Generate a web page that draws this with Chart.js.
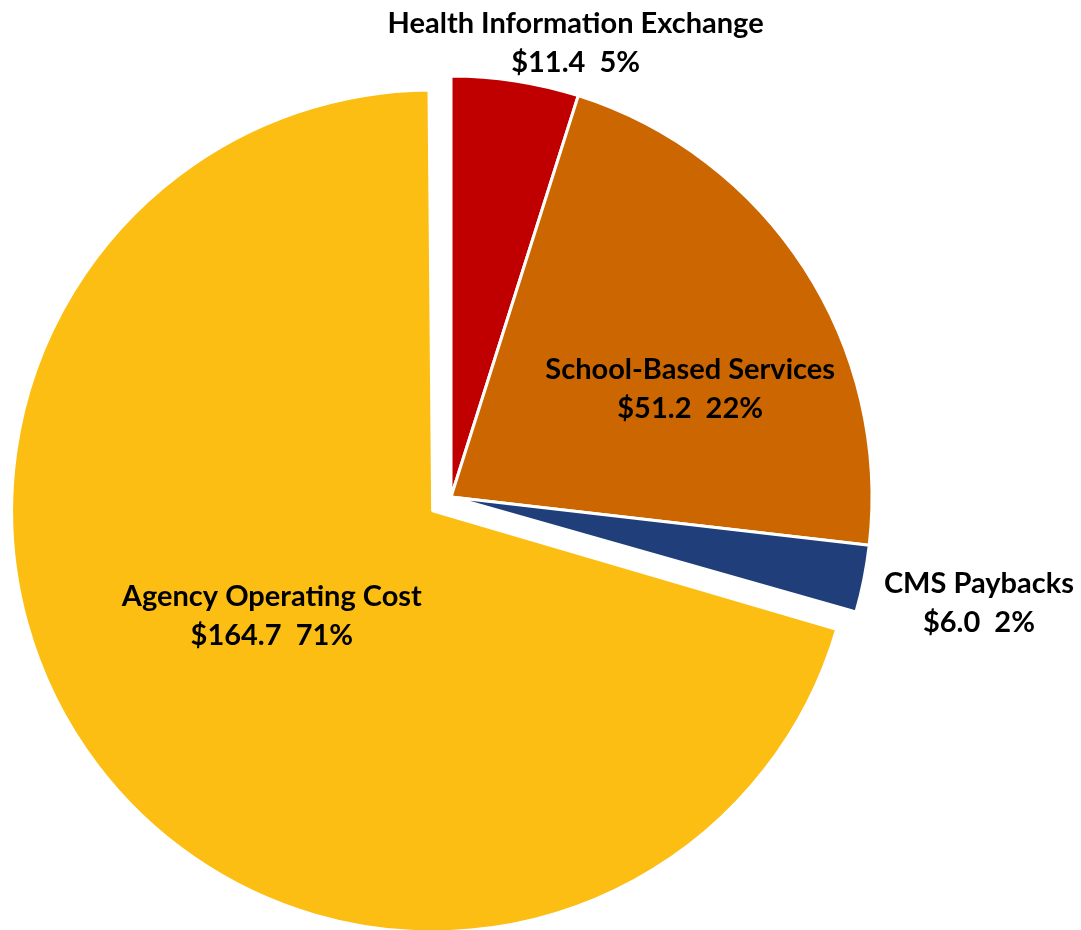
<!DOCTYPE html>
<html>
<head>
<meta charset="utf-8">
<script src="https://cdn.jsdelivr.net/npm/chart.js@4/dist/chart.umd.min.js"></script>
<style>
  body { margin: 0; background: #fff; }
  #wrap { width: 1081px; height: 930px; position: relative; }
</style>
</head>
<body>
<div id="wrap"><canvas id="pieChart"></canvas></div>
<script>
// Data (millions), clockwise from 12 o'clock
const categories = ['Health Information Exchange', 'School-Based Services', 'CMS Paybacks', 'Agency Operating Cost'];
const amounts = [11.4, 51.2, 6.0, 164.7];
const percents = ['5%', '22%', '2%', '71%'];

const sliceColors = ['#C00000', '#CC6600', '#203F7A', '#FCBE12'];
// Chart.js moves a slice by offset / 4, so 92 -> ~23px explode
const sliceOffsets = [0, 0, 0, 92];

// label anchor relative to slice centre, in units of radius
const labelSpots = [[0.296, -1.080], [0.568, -0.257], [1.254, 0.251], [-0.382, 0.250]];

// big slices (> 180deg) also grow by offset/4 when exploded; undo that so all slices keep one radius
const keepRadius = {
    id: 'keepRadius',
    afterDatasetUpdate(chart, args) {
        args.meta.data.forEach(arc => {
            const fix = 1 - Math.sin(Math.min(Math.PI, arc.circumference || 0));
            arc.outerRadius -= (arc.options.offset || 0) / 4 * fix;
        });
    }
};

const labelPlugin = {
    id: 'sliceLabels',
    afterDatasetsDraw(chart) {
        const ctx = chart.ctx;
        const meta = chart.getDatasetMeta(0);
        const R = meta.data[0].outerRadius;
        ctx.save();
        ctx.fillStyle = '#000';
        ctx.textAlign = 'center';
        ctx.textBaseline = 'middle';
        ctx.font = 'bold 29px Lato, "Open Sans", sans-serif';
        meta.data.forEach((arc, i) => {
            const mid = (arc.startAngle + arc.endAngle) / 2;
            const shift = (arc.options.offset || 0) / 4;
            const cx = arc.x + Math.cos(mid) * shift;
            const cy = arc.y + Math.sin(mid) * shift;
            const x = cx + labelSpots[i][0] * R;
            const y = cy + labelSpots[i][1] * R;
            ctx.fillText(categories[i], x, y - 19);
            ctx.fillText('$' + amounts[i].toFixed(1) + '  ' + percents[i], x, y + 20);
        });
        ctx.restore();
    }
};

const ctx = document.getElementById('pieChart').getContext('2d');

new Chart(ctx, {
    type: 'pie',
    data: {
        labels: categories,
        datasets: [{
            data: amounts,
            backgroundColor: sliceColors,
            borderColor: '#fff',
            borderWidth: 3,
            offset: sliceOffsets
        }]
    },
    options: {
        responsive: true,
        maintainAspectRatio: false,
        animation: false,
        radius: 421,
        layout: { padding: { left: 0, right: 179, top: 64, bottom: 0 } },
        plugins: {
            legend: { display: false },
            tooltip: { enabled: false }
        }
    },
    plugins: [keepRadius, labelPlugin]
});
</script>
</body>
</html>
